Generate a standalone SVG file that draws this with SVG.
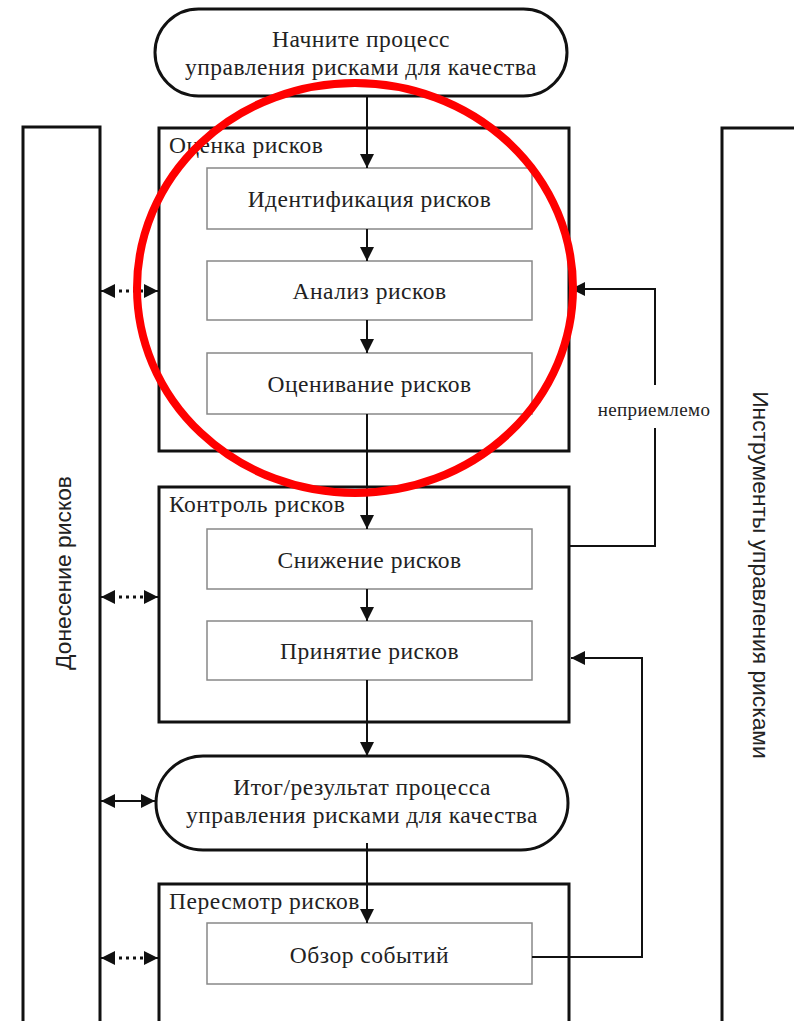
<svg xmlns="http://www.w3.org/2000/svg" width="794" height="1021" viewBox="0 0 794 1021">
<style>
.t{font-family:"Liberation Serif","Times New Roman",serif;font-size:23.5px;letter-spacing:0.5px;fill:#222;text-anchor:middle}
.lb{font-family:"Liberation Serif","Times New Roman",serif;font-size:23.5px;letter-spacing:0.5px;fill:#222}
.s{font-family:"Liberation Sans",Arial,sans-serif;font-size:22.8px;fill:#222;text-anchor:middle}
.c{fill:#fff;stroke:#111;stroke-width:3}
.b{fill:#fff;stroke:#888;stroke-width:1.5}
.ln{fill:none;stroke:#111;stroke-width:2}
.dt{fill:none;stroke:#111;stroke-width:3;stroke-dasharray:3 4}
</style>
<defs>
<marker id="ah" viewBox="0 0 10 10" refX="10" refY="5" markerWidth="14" markerHeight="14" markerUnits="userSpaceOnUse" orient="auto-start-reverse"><path d="M0,0 L10,5 L0,10 z" fill="#111"/></marker>
</defs>
<g id="reporting"><rect class="c" x="23" y="127" width="77" height="1000"/><text class="s" transform="translate(71,573) rotate(-90)">Донесение рисков</text></g>
<g id="tools"><rect class="c" x="722" y="128" width="100" height="1000"/><text class="s" transform="translate(753,575) rotate(90)">Инструменты управления рисками</text></g>
<g id="start"><rect class="c" x="155" y="9" width="412" height="87" rx="43.5"/><text class="t" x="361" y="47">Начните процесс</text><text class="t" x="361" y="75">управления рисками для качества</text></g>
<g id="assessment"><rect class="c" x="159" y="128" width="410" height="323"/><text class="lb" x="169" y="153">Оценка рисков</text></g>
<g id="identification"><rect class="b" x="207" y="168" width="325" height="61"/><text class="t" x="369.5" y="207">Идентификация рисков</text></g>
<g id="analysis"><rect class="b" x="207" y="261" width="325" height="59"/><text class="t" x="369.5" y="299">Анализ рисков</text></g>
<g id="evaluation"><rect class="b" x="207" y="353" width="325" height="61"/><text class="t" x="369.5" y="392">Оценивание рисков</text></g>
<g id="control"><rect class="c" x="159" y="487" width="410" height="235"/><text class="lb" x="169" y="512">Контроль рисков</text></g>
<g id="reduction"><rect class="b" x="207" y="529" width="325" height="60"/><text class="t" x="369.5" y="568">Снижение рисков</text></g>
<g id="acceptance"><rect class="b" x="207" y="621" width="325" height="59"/><text class="t" x="369.5" y="659">Принятие рисков</text></g>
<g id="output"><rect class="c" x="156" y="756" width="412" height="94" rx="47"/><text class="t" x="362" y="795">Итог/результат процесса</text><text class="t" x="362" y="823">управления рисками для качества</text></g>
<g id="review"><rect class="c" x="159" y="884" width="410" height="200"/><text class="lb" x="169" y="909">Пересмотр рисков</text></g>
<g id="events"><rect class="b" x="207" y="923" width="325" height="61"/><text class="t" x="369.5" y="963">Обзор событий</text></g>
<g id="connectors">
<line class="ln" x1="367" y1="96" x2="367" y2="168" marker-end="url(#ah)"/>
<line class="ln" x1="367" y1="229" x2="367" y2="261" marker-end="url(#ah)"/>
<line class="ln" x1="367" y1="320" x2="367" y2="353" marker-end="url(#ah)"/>
<line class="ln" x1="367" y1="414" x2="367" y2="529" marker-end="url(#ah)"/>
<line class="ln" x1="367" y1="589" x2="367" y2="621" marker-end="url(#ah)"/>
<line class="ln" x1="367" y1="680" x2="367" y2="756" marker-end="url(#ah)"/>
<line class="ln" x1="367" y1="843" x2="367" y2="923" marker-end="url(#ah)"/>
<line class="dt" x1="112" y1="291" x2="147" y2="291"/>
<line class="ln" x1="112" y1="291" x2="101" y2="291" marker-end="url(#ah)"/>
<line class="ln" x1="147" y1="291" x2="158" y2="291" marker-end="url(#ah)"/>
<line class="dt" x1="112" y1="597" x2="147" y2="597"/>
<line class="ln" x1="112" y1="597" x2="101" y2="597" marker-end="url(#ah)"/>
<line class="ln" x1="147" y1="597" x2="158" y2="597" marker-end="url(#ah)"/>
<line class="dt" x1="112" y1="958" x2="147" y2="958"/>
<line class="ln" x1="112" y1="958" x2="101" y2="958" marker-end="url(#ah)"/>
<line class="ln" x1="147" y1="958" x2="158" y2="958" marker-end="url(#ah)"/>
<line class="ln" x1="101" y1="801" x2="155" y2="801" marker-start="url(#ah)" marker-end="url(#ah)"/>
<polyline class="ln" points="570,546 655,546 655,428"/>
<polyline class="ln" points="655,385 655,289 571,289" marker-end="url(#ah)"/>
<text x="654" y="416" style="font-family:'Liberation Serif','Times New Roman',serif;font-size:19px;letter-spacing:0.4px;fill:#222;text-anchor:middle">неприемлемо</text>
<polyline class="ln" points="532,957 642,957 642,658 571,658" marker-end="url(#ah)"/>
</g>
<ellipse cx="355" cy="288" rx="218" ry="205" fill="none" stroke="#ff0000" stroke-width="8"/>
</svg>
